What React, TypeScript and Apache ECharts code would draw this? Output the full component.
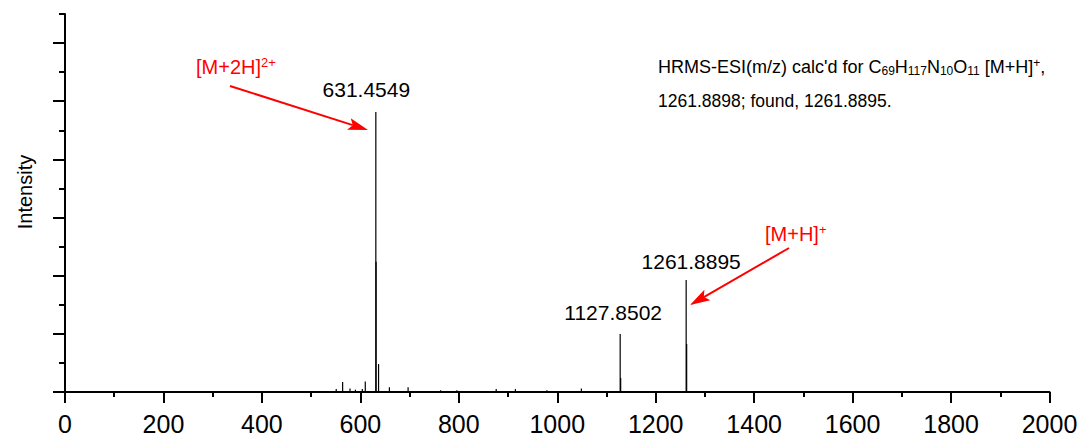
import React, { useEffect, useRef } from "react";
import * as echarts from "echarts";

// ---- data ----
const peakMz = [551, 564, 579, 590, 604, 610, 631.4549, 631.95, 637, 659, 697, 763, 796, 876, 915, 979, 1049, 1127.8502, 1128.85, 1261.8895, 1262.89];
const peakIntensity = [5, 17, 6, 4, 5, 18, 481.5, 224, 48, 8, 8, 3, 3, 5, 5, 3, 6, 99.7, 24, 192.6, 82.5];
const labeledMz = [631.4549, 1127.8502, 1261.8895];
const labeledIntensity = [481.5, 99.7, 192.6];
const xMin = 0;
const xMax = 2000;
const xStep = 200;
const yMax = 650;
const yMajorMax = 600;
const yMajorStep = 100;
const yMinorStep = 50;

const FONT = "'Liberation Sans', Arial, Helvetica, sans-serif";
const RED = "#ff0000";

function arrow(x1: number, y1: number, x2: number, y2: number, color: string) {
  const dx = x2 - x1, dy = y2 - y1;
  const L = Math.hypot(dx, dy);
  const ux = dx / L, uy = dy / L;
  const hl = 20, hw = 6, notch = 4;
  const bx = x2 - ux * hl, by = y2 - uy * hl;
  return [
    { type: "line", shape: { x1, y1, x2: bx + ux * notch, y2: by + uy * notch }, style: { stroke: color, lineWidth: 2 } },
    {
      type: "polygon",
      shape: {
        points: [
          [x2, y2],
          [bx - uy * hw, by + ux * hw],
          [bx + ux * notch, by + uy * notch],
          [bx + uy * hw, by - ux * hw],
        ],
      },
      style: { fill: color },
    },
  ];
}

export default function App() {
  const ref = useRef<HTMLDivElement>(null);
  useEffect(() => {
    if (!ref.current) return;
    const chart = echarts.init(ref.current, null, { renderer: "svg" });
    const labelOffsets = [
      [-9.5, -12],
      [-7, -11.5],
      [5, -7.5],
    ];
    const gridPos = { left: 65, right: 33.5, bottom: 45 };
    chart.setOption({
      animation: false,
      backgroundColor: "#fff",
      grid: [
        { ...gridPos, top: 14 },
        { ...gridPos, top: 14 + ((yMax - yMajorMax) / yMax) * (437 - 45 - 14) },
      ],
      xAxis: [
        {
          type: "value",
          gridIndex: 0,
          min: xMin,
          max: xMax,
          interval: xStep,
          axisLine: { show: true, lineStyle: { color: "#000", width: 2 } },
          axisTick: { show: true, length: 11, lineStyle: { color: "#000", width: 2 } },
          minorTick: { show: true, splitNumber: 2, length: 5, lineStyle: { color: "#000", width: 2 } },
          splitLine: { show: false },
          axisLabel: {
            color: "#000",
            fontSize: 25,
            fontFamily: FONT,
            margin: 19,
            formatter: (v: number) => String(v),
          },
        },
        {
          type: "value",
          gridIndex: 1,
          min: xMin,
          max: xMax,
          show: false,
        },
      ],
      yAxis: [
        {
          type: "value",
          gridIndex: 0,
          min: 0,
          max: yMax,
          interval: yMinorStep,
          axisLine: { show: true, onZero: false, lineStyle: { color: "#000", width: 2 } },
          axisTick: { show: true, length: 6, lineStyle: { color: "#000", width: 2 } },
          axisLabel: { show: false },
          splitLine: { show: false },
        },
        {
          type: "value",
          gridIndex: 1,
          min: 0,
          max: yMajorMax,
          interval: yMajorStep,
          axisLine: { show: false },
          axisTick: { show: true, length: 12, lineStyle: { color: "#000", width: 2 } },
          axisLabel: { show: false },
          splitLine: { show: false },
        },
      ],
      series: [
        {
          type: "custom",
          xAxisIndex: 0,
          yAxisIndex: 0,
          data: peakMz.map((m, i) => [m, peakIntensity[i]]),
          encode: { x: 0, y: 1 },
          renderItem: (params: any, api: any) => {
            const x = api.value(0);
            const y = api.value(1);
            const p0 = api.coord([x, 0]);
            const p1 = api.coord([x, y]);
            return {
              type: "line",
              shape: { x1: p0[0], y1: p0[1], x2: p1[0], y2: p1[1] },
              style: { stroke: "#000", lineWidth: 1.2 },
            };
          },
          z: 1,
        },
        {
          type: "scatter",
          xAxisIndex: 0,
          yAxisIndex: 0,
          symbolSize: 0,
          itemStyle: { opacity: 1 },
          data: labeledMz.map((m, i) => ({
            value: [m, labeledIntensity[i]],
            label: { offset: labelOffsets[i] },
          })),
          label: {
            show: true,
            position: "top",
            distance: 0,
            formatter: (p: any) => p.value[0].toFixed(4),
            color: "#000",
            opacity: 1,
            fontSize: 21,
            lineHeight: 21,
            fontFamily: FONT,
          },
          z: 3,
        },
      ],
      graphic: [
        {
          type: "text",
          x: 25,
          y: 192,
          rotation: Math.PI / 2,
          style: { text: "Intensity", fill: "#000", fontSize: 20, fontFamily: FONT, align: "center", verticalAlign: "middle" },
        },
        {
          type: "text",
          x: 196,
          y: 66.5,
          style: {
            text: "{n|[M+2H]}{sup|2+}",
            fill: RED,
            fontSize: 20,
            fontFamily: FONT,
            align: "left",
            verticalAlign: "middle",
            rich: {
              n: { fontSize: 20, lineHeight: 22, fill: RED, fontFamily: FONT },
              sup: { fontSize: 13, lineHeight: 11, verticalAlign: "top", fill: RED, fontFamily: FONT },
            },
          },
        },
        {
          type: "text",
          x: 765,
          y: 233.5,
          style: {
            text: "{n|[M+H]}{sup|+}",
            fill: RED,
            fontSize: 20,
            fontFamily: FONT,
            align: "left",
            verticalAlign: "middle",
            rich: {
              n: { fontSize: 20, lineHeight: 22, fill: RED, fontFamily: FONT },
              sup: { fontSize: 13, lineHeight: 11, verticalAlign: "top", fill: RED, fontFamily: FONT },
            },
          },
        },
        {
          type: "text",
          x: 658,
          y: 67,
          style: {
            text: "{n|HRMS-ESI(m/z) calc'd for C}{sub|69}{n|H}{sub|117}{n|N}{sub|10}{n|O}{sub|11}{n| [M+H]}{sup|+}{n|,}",
            fill: "#000",
            fontSize: 18,
            fontFamily: FONT,
            align: "left",
            verticalAlign: "middle",
            rich: {
              n: { fontSize: 18, lineHeight: 20, fill: "#000", fontFamily: FONT },
              sub: { fontSize: 12, lineHeight: 9, verticalAlign: "bottom", fill: "#000", fontFamily: FONT },
              sup: { fontSize: 12, lineHeight: 8, verticalAlign: "top", fill: "#000", fontFamily: FONT },
            },
          },
        },
        {
          type: "text",
          x: 658,
          y: 101,
          style: { text: "1261.8898; found, 1261.8895.", fill: "#000", fontSize: 17.5, fontFamily: FONT, align: "left", verticalAlign: "middle" },
        },
        ...arrow(230, 86, 368, 130, RED),
        ...arrow(789, 248, 690, 305, RED),
      ],
    });
    return () => chart.dispose();
  }, []);
  return (
    <div
      ref={ref}
      style={{ position: "fixed", left: 0, top: 0, width: 1083, height: 437, background: "#fff" }}
    />
  );
}
